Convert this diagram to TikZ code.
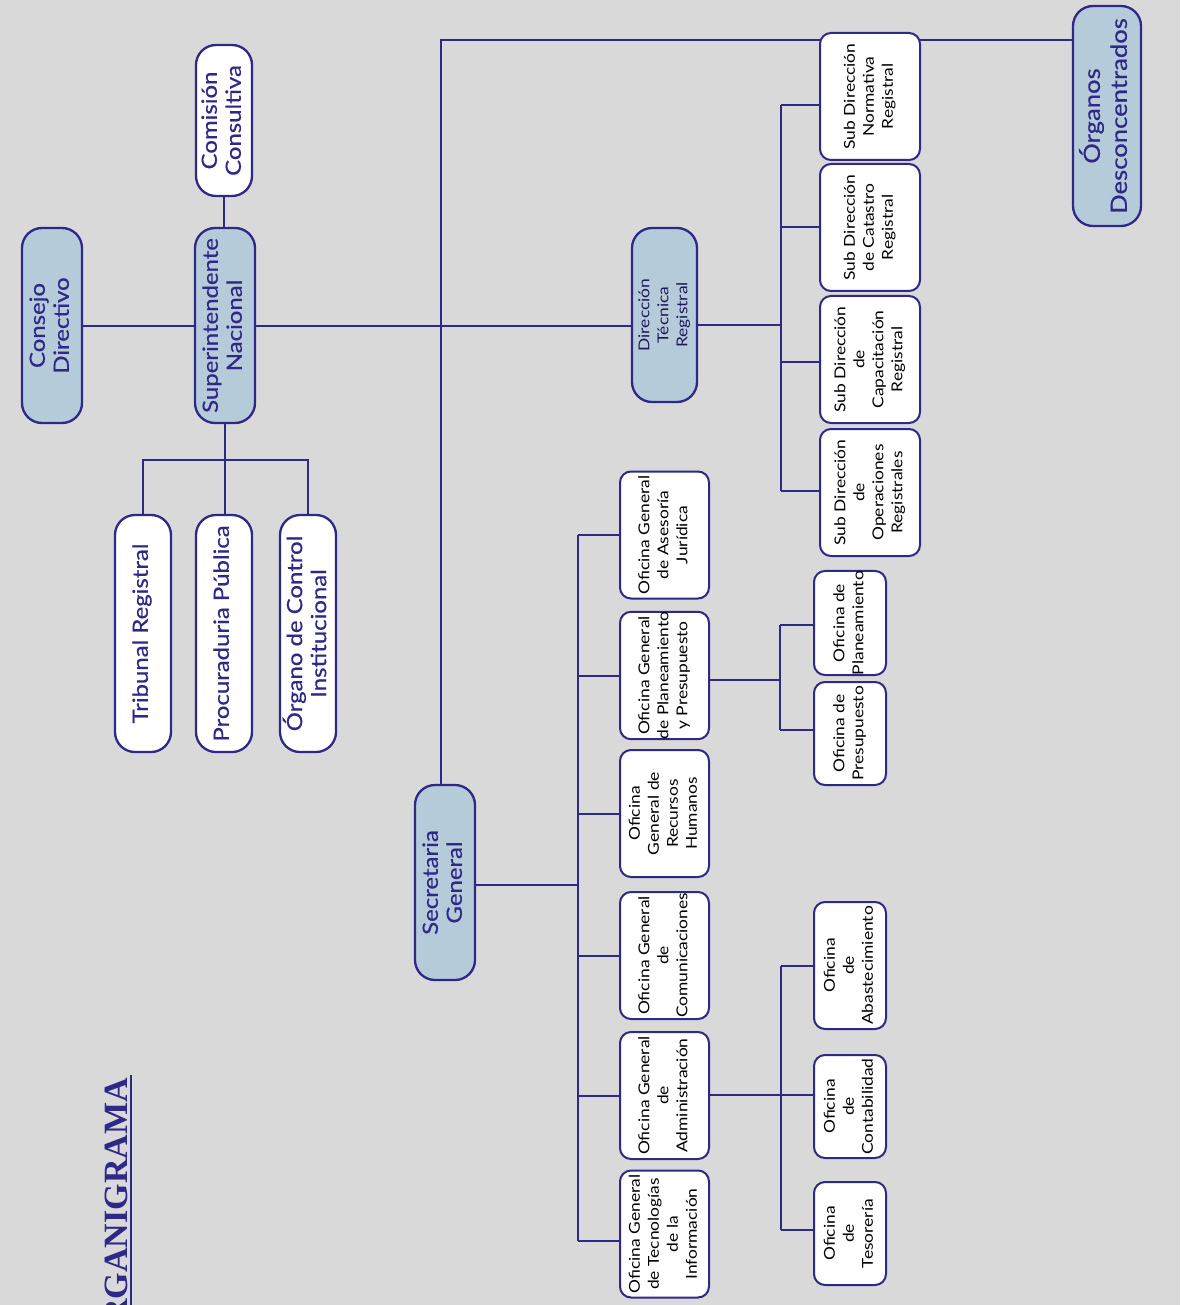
\documentclass[tikz,border=0pt]{standalone}
\usepackage{fontspec}
\usepackage{graphicx}
\setmainfont{Lato}[FakeStretch=1.16]
\newfontfamily\medfont{Lato}[FakeBold=0.5, FakeStretch=1.14]
\newfontfamily\titlefont{Liberation Serif}
\usetikzlibrary{backgrounds}
\definecolor{navy}{RGB}{46,40,135}
\definecolor{darknavy}{RGB}{30,26,90}
\definecolor{boxblue}{RGB}{181,203,217}
\definecolor{bgc}{RGB}{217,217,217}
\newcommand{\rt}[1]{\rotatebox{90}{\begin{tabular}{@{}c@{}}#1\end{tabular}}}
\tikzset{
  bigbox/.style={draw=navy, line width=2.3pt, rounded corners=20pt, inner sep=0pt,
    text=navy, font=\medfont\fontsize{21}{24}\selectfont},
  bigblue/.style={bigbox, fill=boxblue},
  bigwhite/.style={bigbox, fill=white},
  smallbox/.style={draw=navy, line width=2pt, rounded corners=11pt, inner sep=0pt,
    fill=white, text=black, font=\fontsize{15}{19}\selectfont},
  conn/.style={draw=navy, line width=2pt}
}
\begin{document}
\begin{tikzpicture}[x=1pt, y=-1pt]
\path[use as bounding box, clip] (0,0) rectangle (1180,1305);

% top level
\node[bigblue, minimum width=60, minimum height=195] (cd) at (52,325.5) {\rt{Consejo\\Directivo}};
\node[bigblue, minimum width=60, minimum height=195] (si) at (225,325.5) {\rt{Superintendente\\Nacional}};
\node[bigwhite, minimum width=56, minimum height=151] (cc) at (224,120.5) {\rt{Comisión\\Consultiva}};
\node[bigwhite, minimum width=56, minimum height=237] (tr) at (143,633.5) {\rt{Tribunal Registral}};
\node[bigwhite, minimum width=56, minimum height=237] (pp) at (224,633.5) {\rt{Procuraduria Pública}};
\node[bigwhite, minimum width=56, minimum height=237] (oci) at (308,633.5) {\rt{Órgano de Control\\Institucional}};
\node[bigblue, minimum width=60, minimum height=195] (sg) at (445,882.5) {\rt{Secretaria\\General}};
\node[bigblue, minimum width=65, minimum height=174, text=darknavy, font=\fontsize{15}{19}\selectfont] (dtr) at (664.5,315) {\rt{Dirección\\Técnica\\Registral}};
\node[bigblue, minimum width=68, minimum height=220, font=\medfont\fontsize{22.5}{27}\selectfont] (od) at (1107,116) {\rt{Órganos\\Desconcentrados}};

% sub direcciones
\node[smallbox, minimum width=100, minimum height=127] (sdn) at (870,96.5) {\rt{Sub Dirección\\Normativa\\Registral}};
\node[smallbox, minimum width=100, minimum height=127] (sdc) at (870,227.5) {\rt{Sub Dirección\\de Catastro\\Registral}};
\node[smallbox, minimum width=100, minimum height=127] (sdk) at (870,359.5) {\rt{Sub Dirección\\de\\Capacitación\\Registral}};
\node[smallbox, minimum width=100, minimum height=127] (sdo) at (870,492.5) {\rt{Sub Dirección\\de\\Operaciones\\Registrales}};

% oficinas generales
\node[smallbox, minimum width=89, minimum height=127] (oaj) at (664.5,535) {\rt{Oficina General\\de Asesoría\\Jurídica}};
\node[smallbox, minimum width=89, minimum height=127] (opp) at (664.5,675.5) {\rt{Oficina General\\de Planeamiento\\y Presupuesto}};
\node[smallbox, minimum width=89, minimum height=127] (orh) at (664.5,813.5) {\rt{Oficina\\General de\\Recursos\\Humanos}};
\node[smallbox, minimum width=89, minimum height=127] (ocm) at (664.5,955.5) {\rt{Oficina General\\de\\Comunicaciones}};
\node[smallbox, minimum width=89, minimum height=127] (oga) at (664.5,1095.5) {\rt{Oficina General\\de\\Administración}};
\node[smallbox, minimum width=89, minimum height=127] (oti) at (664.5,1234) {\rt{Oficina General\\de Tecnologías\\de la\\Información}};

% oficinas
\node[smallbox, minimum width=72, minimum height=102] (opl) at (850,623) {\rt{Oficina de\\Planeamiento}};
\node[smallbox, minimum width=72, minimum height=103] (opr) at (850,733.5) {\rt{Oficina de\\Presupuesto}};
\node[smallbox, minimum width=72, minimum height=127] (oab) at (850,965.5) {\rt{Oficina\\de\\Abastecimiento}};
\node[smallbox, minimum width=72, minimum height=103] (oco) at (850,1106.5) {\rt{Oficina\\de\\Contabilidad}};
\node[smallbox, minimum width=72, minimum height=103] (ote) at (850,1233.5) {\rt{Oficina\\de\\Tesorería}};

% title
\node[rotate=90, anchor=base east, inner sep=0pt, text=navy,
  font=\titlefont\bfseries\fontsize{34}{34}\selectfont] (title) at (127,1078) {ORGANIGRAMA};

\coordinate (top) at (441,40);
\coordinate (sj) at (225,460);
\coordinate (sgbus) at (578,885);
\coordinate (dbus) at (781,325);
\coordinate (pbus) at (780,680);
\coordinate (abus) at (781,1095);

\begin{scope}[on background layer]
\fill[bgc] (0,0) rectangle (1180,1305);
% title underline
\draw[conn] (131,1075) -- (131,1310);
% top level links
\draw[conn] (cd.east) -- (si.west);
\draw[conn] (si.east) -- (si.east -| dtr.west);
\draw[conn] (cc.south) -- (cc.south |- si.north);
\draw[conn] (si.south) -- (si.south |- pp.north);
\draw[conn] (tr.north) -- (tr.north |- sj) -- (oci.north |- sj) -- (oci.north);
% long line to Secretaria and Órganos Desconcentrados
\draw[conn] (top |- sg.north) -- (top) -- (top -| od.west);
% Secretaria General bus
\draw[conn] (sg.east |- sgbus) -- (sgbus);
\draw[conn] (sgbus |- oaj.west) -- ([yshift=-7pt]sgbus |- oti.west);
\draw[conn] (sgbus |- oaj.west) -- (oaj.west);
\draw[conn] (sgbus |- opp.west) -- (opp.west);
\draw[conn] (sgbus |- orh.west) -- (orh.west);
\draw[conn] (sgbus |- ocm.west) -- (ocm.west);
\draw[conn] (sgbus |- oga.west) -- (oga.west);
\draw[conn] ([yshift=-7pt]sgbus |- oti.west) -- ([yshift=-7pt]oti.west);
% Dirección Técnica bus
\draw[conn] (dtr.east |- dbus) -- (dbus);
\draw[conn] ([yshift=-8.5pt]dbus |- sdn.west) -- ([yshift=1.5pt]dbus |- sdo.west);
\draw[conn] ([yshift=-8.5pt]dbus |- sdn.west) -- ([yshift=-8.5pt]sdn.west);
\draw[conn] (dbus |- sdc.west) -- (sdc.west);
\draw[conn] ([yshift=-2.5pt]dbus |- sdk.west) -- ([yshift=-2.5pt]sdk.west);
\draw[conn] ([yshift=1.5pt]dbus |- sdo.west) -- ([yshift=1.5pt]sdo.west);
% Planeamiento y Presupuesto bus
\draw[conn] (opp.east |- pbus) -- (pbus);
\draw[conn] ([yshift=-2pt]pbus |- opl.west) -- ([yshift=3.5pt]pbus |- opr.west);
\draw[conn] ([yshift=-2pt]pbus |- opl.west) -- ([yshift=-2pt]opl.west);
\draw[conn] ([yshift=3.5pt]pbus |- opr.west) -- ([yshift=3.5pt]opr.west);
% Administración bus
\draw[conn] (oga.east |- abus) -- (abus -| oco.west);
\draw[conn] (abus |- oab.west) -- ([yshift=3.5pt]abus |- ote.west);
\draw[conn] (abus |- oab.west) -- (oab.west);
\draw[conn] ([yshift=3.5pt]abus |- ote.west) -- ([yshift=3.5pt]ote.west);
\end{scope}
\end{tikzpicture}
\end{document}
